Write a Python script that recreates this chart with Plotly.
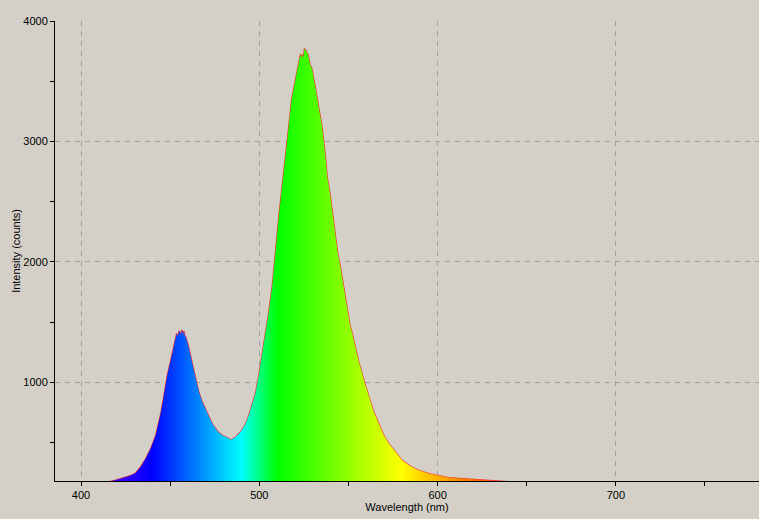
import plotly.graph_objects as go

# Spectrum
wavelength_nm = [386, 410, 416, 419, 422.2, 425, 427.8, 430.6, 433.4, 436.3, 439.1, 441.9,
                 444.7, 446.5, 448.4, 450.3, 452.1, 453.0, 453.6, 454.3, 455.0, 455.9, 456.6,
                 457.2, 457.7, 458.2, 458.7, 459.5, 460.5, 462.4, 464.3, 466.1, 468.0, 470.8,
                 473.6, 476.4, 479.2, 482.0, 483.9, 485.3, 486.7, 489.5, 492.3, 494.1, 496.0,
                 497.9, 499.7, 501.6, 503.5, 505.3, 507.2, 508.5, 510.0, 511.3, 512.8, 514.3,
                 515.6, 517.1, 518.1, 519.3, 520.7, 522.1, 523.1, 523.6, 524.1, 524.7, 525.3,
                 525.9, 526.6, 527.4, 528.3, 529.7, 531.5, 533.4, 535.3, 537.1, 538.1, 539.9,
                 541.4, 542.7, 544.0, 545.5, 547.0, 548.9, 550.7, 552.6, 553.9, 555.8, 559.5,
                 562.3, 564.2, 567.0, 569.8, 572.6, 576.3, 580.1, 584.7, 589.4, 595.0, 600.6,
                 606.2, 613.7, 620.2, 627, 634, 638, 645, 700, 780]
intensity_counts = [170, 172, 178, 188, 202, 213, 227, 249, 299, 368, 452, 562,
                    742, 894, 1061, 1185, 1310, 1370, 1405, 1385, 1430, 1400, 1438,
                    1395, 1425, 1390, 1379, 1340, 1289, 1158, 1033, 922, 839, 742,
                    659, 598, 562, 543, 525, 535, 548, 589, 659, 728, 825,
                    915, 1061, 1227, 1393, 1587, 1794, 2016, 2210, 2432, 2626, 2847,
                    3041, 3207, 3346, 3443, 3568, 3651, 3728, 3690, 3720, 3700, 3767,
                    3762, 3745, 3720, 3650, 3595, 3443, 3263, 3111, 2875, 2709, 2542,
                    2376, 2210, 2072, 1961, 1823, 1657, 1490, 1379, 1296, 1171, 978,
                    847, 756, 659, 562, 493, 423, 354, 304, 271, 244, 230,
                    211, 202, 196, 192, 186, 178, 172, 170, 170]

x_range = [385.4, 780.3]
y_range = [182, 4000]

BG = "#D4D0C8"
GRID = "#A0A0A0"
FONT = "Liberation Sans, Arial, sans-serif"

# wavelength -> colour stops (spectral colours)
spec_start, spec_stop = 380, 780
spec_stops = [(380, "#6000FF"), (420, "#4000FF"), (440, "#0000FF"), (455, "#004DFF"),
              (470, "#0099FF"), (490, "#00FFFF"), (500, "#00FF80"), (510, "#00FF00"),
              (545, "#80FF00"), (580, "#FFFF00"), (600, "#FFB000"), (615, "#FF8000"),
              (645, "#FF3000"), (780, "#FF0000")]
colorscale = [[(w - spec_start) / (spec_stop - spec_start), c] for w, c in spec_stops]

fig = go.Figure()
fig.add_trace(go.Scatter(
    x=wavelength_nm, y=intensity_counts, mode="lines",
    line=dict(color="rgba(255,0,0,0.8)", width=1.2), hoverinfo="skip", showlegend=False))
fig.add_trace(go.Scatter(
    x=wavelength_nm, y=intensity_counts, mode="lines",
    line=dict(width=0), fill="tozeroy",
    fillgradient=dict(type="horizontal", colorscale=colorscale,
                      start=spec_start, stop=spec_stop),
    hoverinfo="skip", showlegend=False))

fig.update_layout(
    width=759, height=519,
    margin=dict(l=55, r=0, t=21, b=38),
    paper_bgcolor=BG, plot_bgcolor=BG,
    font=dict(family=FONT, size=11, color="#000000"),
    xaxis=dict(
        range=x_range, tickvals=[400, 500, 600, 700], ticks="outside", ticklen=4,
        tickcolor="#000", showline=True, linecolor="#000", linewidth=1,
        showgrid=True, gridcolor=GRID, griddash="5px,5px", gridwidth=1,
        zeroline=False,
        minor=dict(tickvals=[450, 550, 650, 750], ticks="outside", ticklen=4,
                   tickcolor="#000", showgrid=False),
        title=dict(text="Wavelength (nm)", standoff=2, font=dict(size=11)),
        tickfont=dict(size=11),
    ),
    yaxis=dict(
        range=y_range, tickvals=[1000, 2000, 3000, 4000], ticks="outside", ticklen=4,
        tickcolor="#000", showline=True, linecolor="#000", linewidth=1,
        showgrid=True, gridcolor=GRID, griddash="5px,5px", gridwidth=1,
        zeroline=False,
        minor=dict(tickvals=[500, 1500, 2500, 3500], ticks="outside", ticklen=4,
                   tickcolor="#000", showgrid=False),
        title=dict(text="Intensity (counts)", standoff=0, font=dict(size=11)),
        tickfont=dict(size=11),
    ),
)

# remove the browser's default 8px page margin so the figure fills the window
page_css = ("document.body.style.margin='0';"
            "document.body.style.overflow='hidden';"
            "document.body.style.background='" + BG + "';")
fig.write_html("out.html", post_script=page_css, config={"displayModeBar": False})
